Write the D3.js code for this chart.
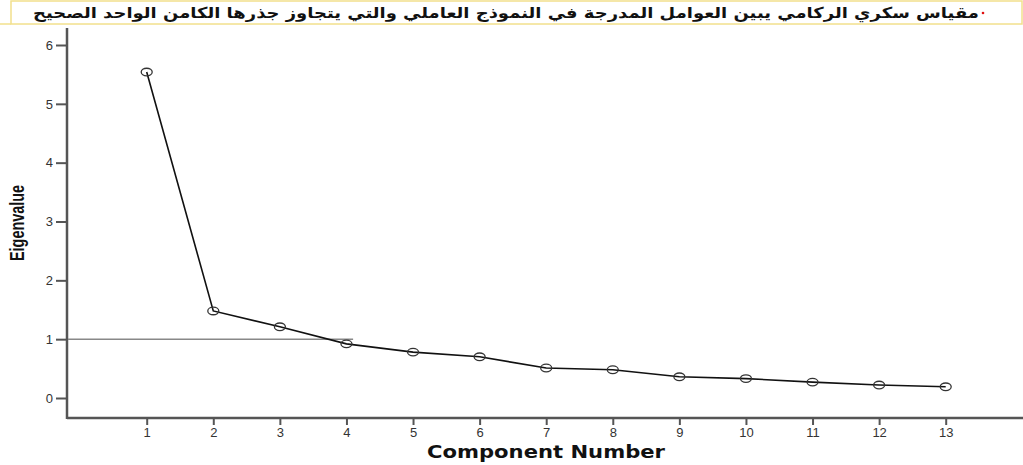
<!DOCTYPE html>
<html>
<head>
<meta charset="utf-8">
<script src="https://cdn.jsdelivr.net/npm/d3@7"></script>
<style>
  html, body { margin: 0; padding: 0; background: #fff; }
  svg { display: block; }
</style>
</head>
<body>
<svg id="chart" width="1023" height="465"></svg>
<script>
// Scree plot: eigenvalues per extracted component
const components = [1, 2, 3, 4, 5, 6, 7, 8, 9, 10, 11, 12, 13];
const eigenvalues = [5.54, 1.48, 1.21, 0.92, 0.78, 0.70, 0.51, 0.48, 0.36, 0.33, 0.27, 0.22, 0.19];
const yTicks = [0, 1, 2, 3, 4, 5, 6];
const cutoff = 1;
const cutoffEnd = 4.1;
const titleText = "مقياس سكري الركامي يبين العوامل المدرجة في النموذج العاملي والتي يتجاوز جذرها الكامن الواحد الصحيح";
const xLabel = "Component Number";
const yLabel = "Eigenvalue";

const svg = d3.select("#chart");
const axisColor = "#555";
const textColor = "#333";

const x = d3.scaleLinear().domain([1, 13]).range([146.7, 945.7]);
const y = d3.scaleLinear().domain([0, 6]).range([398, 45]);

const plotLeft = 67, plotRight = 1023, plotTop = 28, plotBottom = 418;

// Title banner
svg.append("rect")
  .attr("x", 11).attr("y", 1).attr("width", 1011).attr("height", 23)
  .attr("fill", "#fff").attr("stroke", "#f2e08c").attr("stroke-width", 1.5);
svg.append("line")
  .attr("x1", 0).attr("x2", 11).attr("y1", 24).attr("y2", 24)
  .attr("stroke", "#f2e08c").attr("stroke-width", 1.5);
svg.append("text")
  .attr("x", 506).attr("y", 18)
  .attr("text-anchor", "middle")
  .attr("direction", "rtl")
  .attr("font-family", "DejaVu Sans")
  .attr("font-weight", "bold")
  .attr("font-size", 15)
  .attr("textLength", 946)
  .attr("lengthAdjust", "spacingAndGlyphs")
  .attr("fill", "#111")
  .text(titleText);
svg.append("circle")
  .attr("cx", 983).attr("cy", 13).attr("r", 1.3).attr("fill", "#e01010");

// Axes
const xAxis = d3.axisBottom(x).tickValues(components).tickSize(7).tickPadding(3).tickSizeOuter(0);
const gx = svg.append("g").attr("transform", `translate(0,${plotBottom})`).call(xAxis);
gx.select(".domain").remove();
gx.selectAll(".tick line").attr("stroke", axisColor).attr("stroke-width", 2);
gx.selectAll(".tick text")
  .attr("font-family", "Liberation Sans, Arial, sans-serif")
  .attr("font-size", 13).attr("fill", textColor);

const yAxis = d3.axisLeft(y).tickValues(yTicks).tickFormat(d3.format("d"))
  .tickSize(11).tickPadding(3).tickSizeOuter(0);
const gy = svg.append("g").attr("transform", `translate(${plotLeft},0)`).call(yAxis);
gy.select(".domain").remove();
gy.selectAll(".tick line").attr("stroke", axisColor).attr("stroke-width", 2);
gy.selectAll(".tick text")
  .attr("font-family", "Liberation Sans, Arial, sans-serif")
  .attr("font-size", 13).attr("fill", textColor);

svg.append("line")
  .attr("x1", plotLeft).attr("x2", plotRight).attr("y1", plotBottom).attr("y2", plotBottom)
  .attr("stroke", axisColor).attr("stroke-width", 2.5);
svg.append("line")
  .attr("x1", plotLeft).attr("x2", plotLeft).attr("y1", plotTop).attr("y2", plotBottom + 1)
  .attr("stroke", axisColor).attr("stroke-width", 2.5);

// Reference line at eigenvalue = 1
svg.append("line")
  .attr("x1", plotLeft + 1).attr("x2", x(cutoffEnd))
  .attr("y1", y(cutoff)).attr("y2", y(cutoff))
  .attr("stroke", "#888").attr("stroke-width", 1.5);

// Eigenvalue line and markers
const pts = components.map((c, i) => ({ c, v: eigenvalues[i] }));
svg.append("path")
  .datum(pts)
  .attr("fill", "none")
  .attr("stroke", "#111")
  .attr("stroke-width", 1.6)
  .attr("d", d3.line().x(d => x(d.c)).y(d => y(d.v)));

svg.selectAll("ellipse.pt")
  .data(pts)
  .join("ellipse")
  .attr("class", "pt")
  .attr("cx", d => x(d.c)).attr("cy", d => y(d.v))
  .attr("rx", 5.5).attr("ry", 3.8)
  .attr("fill", "none").attr("stroke", "#333").attr("stroke-width", 1.3);

// Axis titles
svg.append("text")
  .attr("x", 546).attr("y", 458)
  .attr("text-anchor", "middle")
  .attr("font-family", "DejaVu Sans")
  .attr("font-weight", "bold")
  .attr("font-size", 17)
  .attr("textLength", 238)
  .attr("lengthAdjust", "spacingAndGlyphs")
  .attr("fill", "#111")
  .text(xLabel);

svg.append("text")
  .attr("transform", "translate(24,223) rotate(-90)")
  .attr("text-anchor", "middle")
  .attr("font-family", "Liberation Sans Narrow, Liberation Sans, Arial, sans-serif")
  .attr("font-weight", "bold")
  .attr("font-size", 21)
  .attr("textLength", 76)
  .attr("lengthAdjust", "spacingAndGlyphs")
  .attr("fill", "#111")
  .text(yLabel);
</script>
</body>
</html>
